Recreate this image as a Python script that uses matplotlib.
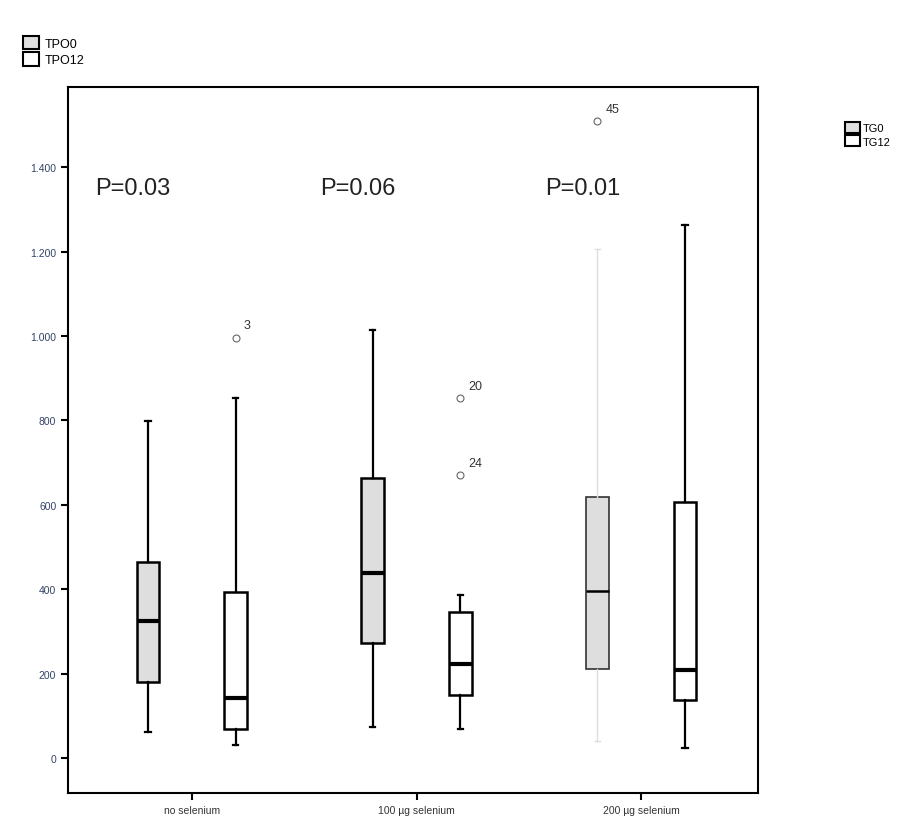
import numpy as np
import matplotlib.pyplot as plt
from matplotlib.patches import Patch

plt.rcParams['font.family'] = ['Liberation Sans', 'DejaVu Sans']

groups = ['no selenium', '100 µg selenium', '200 µg selenium']

# TPO0 (grey boxes)
tpo0_wlo = [62, 73, 41]
tpo0_q1 = [180, 272, 211]
tpo0_med = [324, 438, 396]
tpo0_q3 = [464, 663, 618]
tpo0_whi = [798, 1015, 1205]
tpo0_out = [[], [], [1508]]
tpo0_out_lab = [[], [], ['45']]

# TPO12 (white boxes)
tpo12_wlo = [31, 69, 24]
tpo12_q1 = [69, 149, 137]
tpo12_med = [142, 222, 208]
tpo12_q3 = [393, 346, 606]
tpo12_whi = [852, 386, 1262]
tpo12_out = [[996], [852, 670], []]
tpo12_out_lab = [['3'], ['20', '24'], []]

p_values = ['P=0.03', 'P=0.06', 'P=0.01']
yticks = [0, 200, 400, 600, 800, 1000, 1200, 1400]
ytick_labels = ['0', '200', '400', '600', '800', '1.000', '1.200', '1.400']

grey = '#dedede'

fig = plt.figure(figsize=(9.08, 8.29), dpi=100)
ax = fig.add_axes([0.075, 0.042, 0.76, 0.852])

x = np.arange(len(groups))
off = 0.195
w = 0.1


def stats(wlo, q1, med, q3, whi, out):
    return [dict(whislo=a, q1=b, med=c, q3=d, whishi=e, fliers=f)
            for a, b, c, d, e, f in zip(wlo, q1, med, q3, whi, out)]


s0 = stats(tpo0_wlo, tpo0_q1, tpo0_med, tpo0_q3, tpo0_whi, tpo0_out)
s12 = stats(tpo12_wlo, tpo12_q1, tpo12_med, tpo12_q3, tpo12_whi, tpo12_out)

flier = dict(marker='o', markersize=5, markerfacecolor='none',
             markeredgecolor='#666666', markeredgewidth=0.8)

b0 = ax.bxp(s0, positions=x - off, widths=w, patch_artist=True,
            boxprops=dict(facecolor=grey, edgecolor='black', linewidth=1.8),
            medianprops=dict(color='black', linewidth=3),
            whiskerprops=dict(color='black', linewidth=1.6),
            capprops=dict(color='black', linewidth=1.6),
            capwidths=0.025, flierprops=flier, manage_ticks=False)
b12 = ax.bxp(s12, positions=x + off, widths=w, patch_artist=True,
             boxprops=dict(facecolor='white', edgecolor='black', linewidth=1.8),
             medianprops=dict(color='black', linewidth=3),
             whiskerprops=dict(color='black', linewidth=1.6),
             capprops=dict(color='black', linewidth=1.6),
             capwidths=0.025, flierprops=flier, manage_ticks=False)

# third grey box rendered faintly in the original
b0['boxes'][2].set_edgecolor('#333333')
b0['boxes'][2].set_linewidth(1.2)
b0['medians'][2].set_linewidth(1.8)
for ln in b0['whiskers'][4:6] + b0['caps'][4:6]:
    ln.set_color('#dddddd')
    ln.set_linewidth(1)

# outlier labels
for i in range(len(groups)):
    for v, lab in zip(tpo0_out[i], tpo0_out_lab[i]):
        ax.annotate(lab, (x[i] - off, v), xytext=(6, 7), textcoords='offset points',
                    fontsize=9, color='#333333')
    for v, lab in zip(tpo12_out[i], tpo12_out_lab[i]):
        ax.annotate(lab, (x[i] + off, v), xytext=(6, 7), textcoords='offset points',
                    fontsize=9, color='#333333')
    ax.text(x[i] - 0.43, 1350, p_values[i], fontsize=17, va='center', ha='left',
            color='#222222')

ax.set_xlim(-0.55, 2.52)
ax.set_ylim(-83, 1590)
ax.set_xticks(x)
ax.set_xticklabels(groups, fontsize=7.5, color='#333333')
ax.set_yticks(yticks)
ax.set_yticklabels(ytick_labels, fontsize=7.5, color='#334466')
ax.tick_params(axis='both', length=5, width=1.5, color='black')
for sp in ax.spines.values():
    sp.set_linewidth(1.5)

h = [Patch(facecolor=grey, edgecolor='black', linewidth=1.5),
     Patch(facecolor='white', edgecolor='black', linewidth=1.5)]
fig.legend(h, ['TPO0', 'TPO12'], loc='upper left', bbox_to_anchor=(0.02, 0.962),
           frameon=False, fontsize=9, handlelength=1.3, handleheight=1.3,
           handletextpad=0.4, labelspacing=0.2, borderaxespad=0)
fig.legend(h, ['TG0', 'TG12'], loc='upper left', bbox_to_anchor=(0.926, 0.857),
           frameon=False, fontsize=8, handlelength=1.3, handleheight=1.2,
           handletextpad=0.3, labelspacing=0.15, borderaxespad=0)

fig.savefig('out.png', dpi=100)
